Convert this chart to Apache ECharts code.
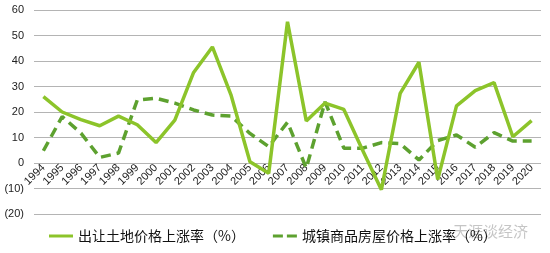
<!DOCTYPE html>
<html><head><meta charset="utf-8">
<script src="https://cdn.jsdelivr.net/npm/echarts@6/dist/echarts.min.js"></script>
<style>html,body{margin:0;padding:0;background:#fff}#c{width:550px;height:253px}</style>
</head><body><div id="c"></div>
<script>
const years = ['1994','1995','1996','1997','1998','1999','2000','2001','2002','2003','2004','2005','2006','2007','2008','2009','2010','2011','2012','2013','2014','2015','2016','2017','2018','2019','2020'];
const landPrice = [26,20,17,14.6,18.4,15,8,16.8,35.5,45.5,26.5,0.5,-4,55.4,16.5,23.5,21,5,-10.5,27.3,39.5,-6.5,22.4,28.4,31.5,10.3,16.6];
const housePrice = [4.8,18.2,11.7,2.2,3.9,24.7,25.4,23.5,20.8,18.8,18.4,11.6,6.4,16,-2,24,5.8,5.8,8,7.6,1.2,8.8,11,6.2,11.9,8.6,8.6];
const seriesNames = ['出让土地价格上涨率（%）','城镇商品房屋价格上涨率（%）'];
const yTicks = {min:-20,max:60,interval:10};

const chart = echarts.init(document.getElementById('c'), null, {renderer:'canvas'});
chart.setOption({
  animation:false,
  grid:{left:34,right:9,top:10,bottom:39,containLabel:false},
  legend:{
    bottom:5,left:44,itemWidth:24,itemHeight:10,itemGap:28,
    textStyle:{fontFamily:'Noto Sans CJK SC',fontSize:14,color:'#111'},
    data:[{name:seriesNames[0],icon:'path://M0,4 L24,4 L24,7 L0,7 Z'},{name:seriesNames[1],icon:'path://M0,4 L10,4 L10,7 L0,7 Z M14,4 L24,4 L24,7 L14,7 Z'}]
  },
  xAxis:{
    type:'category',data:years,boundaryGap:true,position:'bottom',offset:-51,
    axisLine:{show:false,onZero:false},
    axisTick:{show:false},
    axisLabel:{rotate:45,margin:3,fontFamily:'Liberation Sans',fontSize:11,color:'#222',interval:0}
  },
  yAxis:{
    type:'value',min:yTicks.min,max:yTicks.max,interval:yTicks.interval,
    axisLine:{show:false},axisTick:{show:false},
    splitLine:{lineStyle:{color:'#b4b4b4',width:1}},
    axisLabel:{margin:10,fontFamily:'Liberation Sans',fontSize:11,color:'#222',
      formatter:v=>v<0?'('+(-v)+')':String(v)}
  },
  series:[
    {name:seriesNames[0],type:'line',data:landPrice,symbol:'none',
     lineStyle:{color:'#8cc42a',width:3.5},itemStyle:{color:'#8cc42a'},z:3},
    {name:seriesNames[1],type:'line',data:housePrice,symbol:'none',
     lineStyle:{color:'#5da12f',width:3.5,type:[10,6]},itemStyle:{color:'#5da12f'},z:2}
  ],
  graphic:[{type:'text',right:22,bottom:14,style:{text:'天涯谈经济',fontFamily:'Noto Sans CJK SC',fontSize:15,fill:'rgba(150,150,150,0.55)'}}]
});
</script></body></html>
